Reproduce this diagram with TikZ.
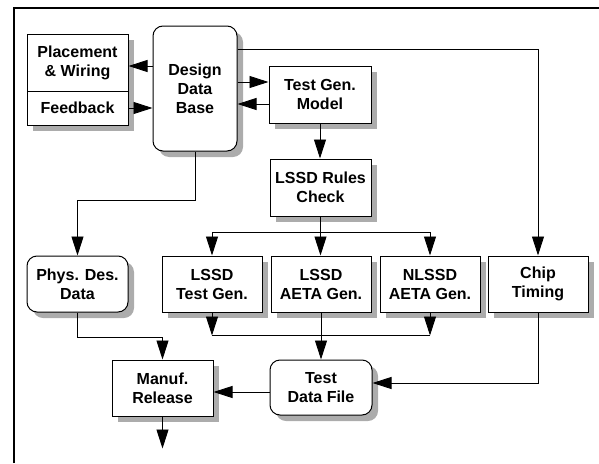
\documentclass[tikz,border=0pt]{standalone}
\usepackage{fontspec}
\setmainfont{Liberation Sans}
\usetikzlibrary{arrows.meta,shadows}
\begin{document}
\begin{tikzpicture}[x=1pt,y=-1pt,
  box/.style={draw,line width=1pt,fill=white,align=center,inner sep=0pt,
    font=\bfseries\fontsize{16}{19}\selectfont,
    drop shadow={shadow xshift=6pt,shadow yshift=-6pt,fill=gray!65,opacity=1}},
  rbox/.style={box,rounded corners=10pt},
  conn/.style={line width=0.9pt},
  arr/.style={conn,-{Triangle[length=19pt,width=12pt]}}]
\useasboundingbox (0,0) rectangle (599,463);
% frame
\draw[line width=1.4pt] (14,463) -- (14,8) -- (599,8);
% nodes
\node[box,minimum width=101pt,minimum height=57pt] (pw) at (77.5,62.5) {Placement\\\& Wiring};
\node[box,minimum width=101pt,minimum height=34pt] (fb) at (77.5,108) {Feedback};
\node[rbox,minimum width=84pt,minimum height=125pt] (ddb) at (195,88.5) {Design\\Data\\Base};
\node[box,minimum width=102pt,minimum height=57pt] (tgm) at (320,94.5) {Test Gen.\\Model};
\node[box,minimum width=101pt,minimum height=57pt] (lrc) at (320.5,187.5) {LSSD Rules\\Check};
\node[box,minimum width=100pt,minimum height=56pt] (ltg) at (212,284) {LSSD\\Test Gen.};
\node[box,minimum width=100pt,minimum height=56pt] (lag) at (321,284) {LSSD\\AETA Gen.};
\node[box,minimum width=100pt,minimum height=56pt] (nag) at (430,284) {NLSSD\\AETA Gen.};
\node[box,minimum width=100pt,minimum height=56pt] (ct) at (538,284) {Chip\\Timing};
\node[rbox,minimum width=101pt,minimum height=56pt] (pdd) at (77.5,284) {Phys. Des.\\Data};
\node[box,minimum width=101pt,minimum height=56pt] (mr) at (162.5,388) {Manuf.\\Release};
\node[rbox,minimum width=102pt,minimum height=55pt] (tdf) at (321,387.5) {Test\\Data File};
% helper coordinates
\coordinate (a1) at ([yshift=-3.5pt]pw.east);
\coordinate (b1) at ([yshift=12.5pt]tgm.west);
\coordinate (b2) at ([yshift=-9.5pt]tgm.west);
\coordinate (c1) at ([yshift=39.5pt]ddb.east);
\coordinate (br) at ([yshift=-16pt]lrc.south);
\coordinate (bm) at ([yshift=-23pt]lag.south);
\coordinate (d1) at ([yshift=-49pt]ddb.south);
\coordinate (e1) at ([yshift=-25pt]pdd.south);
\coordinate (out) at ([yshift=-32pt]mr.south);
\coordinate (f1) at ([yshift=-4.5pt]tdf.west);
\coordinate (g1) at ([yshift=4.5pt]tdf.east);
% connectors
\draw[arr] (a1 -| ddb.west) -- (a1);
\draw[arr] (fb.east) -- (fb.east -| ddb.west);
\draw[arr] (b1 -| ddb.east) -- (b1);
\draw[arr] (b2) -- (b2 -| ddb.east);
\draw[arr] (c1) -| (ct.north);
\draw[arr] (tgm.south) -- (tgm.south |- lrc.north);
\draw[conn] (lrc.south) -- (br);
\draw[arr] (br) -- (br |- lag.north);
\draw[arr] (br) -| (ltg.north);
\draw[arr] (br) -| (nag.north);
\draw[conn] (ltg.south |- bm) -- (nag.south |- bm);
\draw[arr] (ltg.south) -- (ltg.south |- bm);
\draw[arr] (nag.south) -- (nag.south |- bm);
\draw[arr] (lag.south) -- (lag.south |- tdf.north);
\draw[arr] (ddb.south) -- (d1) -| (pdd.north);
\draw[arr] (pdd.south) -- (e1) -| (mr.north);
\draw[arr] (mr.south) -- (out);
\draw[arr] (f1) -- (f1 -| mr.east);
\draw[arr] (ct.south) |- (g1);
\end{tikzpicture}
\end{document}
